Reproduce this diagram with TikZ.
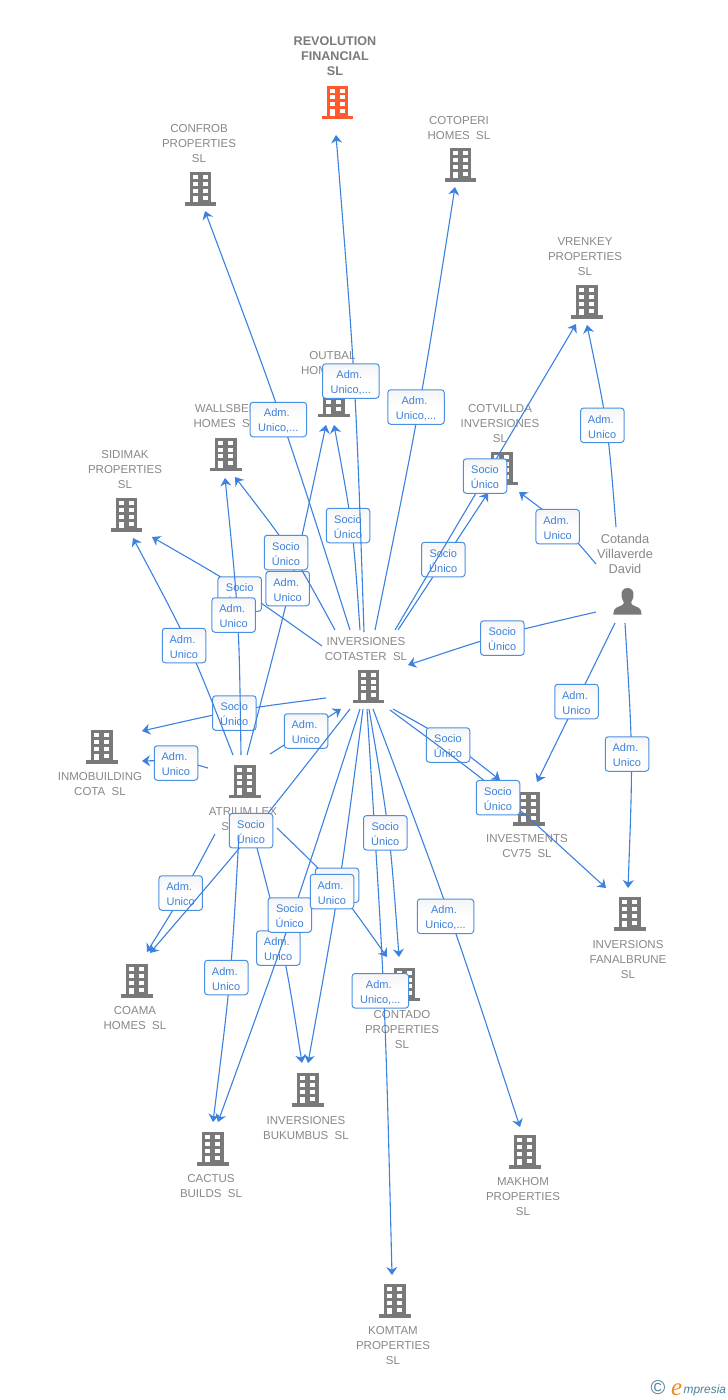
\documentclass[tikz,border=0pt]{standalone}
\usepackage{fontspec}
\setmainfont{Liberation Sans}
\newfontfamily\logoserif{Liberation Serif}
\usetikzlibrary{arrows.meta}
\definecolor{linkblue}{HTML}{3B82E0}
\definecolor{boxblue}{HTML}{4A90E2}
\definecolor{labelblue}{HTML}{3D80DC}
\definecolor{namegray}{HTML}{888888}
\definecolor{icongray}{HTML}{797979}
\definecolor{iconorange}{HTML}{FF5A2C}
\definecolor{logoblue}{HTML}{4A7F9E}
\definecolor{logoorange}{HTML}{F28A1E}
\tikzset{
  link/.style={draw=linkblue,line width=1.1pt,-{Stealth[length=8pt,width=11pt,inset=2.6pt]}},
  lab/.style={draw=boxblue,line width=1pt,rounded corners=3pt,top color=black!4,bottom color=white,middle color=white,
    minimum width=43.5pt,minimum height=34.5pt,inner sep=0pt,align=center,text=labelblue,font=\fontsize{11}{15}\selectfont},
  labw/.style={lab,minimum width=56.5pt},
  iconbox/.style={minimum width=31pt,minimum height=34pt,inner sep=0pt},
  nametxt/.style={yshift=-1pt,text=namegray,align=center,inner sep=0pt,font=\fontsize{11.5}{15}\selectfont},
  bldgicon/.pic={
    \fill[fill=#1] (-11,-16.8) rectangle (10.7,13.4);
    \fill[fill=#1] (-15.7,13.4) rectangle (15.7,16.8);
    \foreach \yy in {-13.6,-6.9,-0.2} {
      \fill[white] (-7.7,\yy) rectangle (-2.7,\yy+3.9);
      \fill[white] (2.3,\yy) rectangle (7.1,\yy+3.9);
    }
    \fill[white] (-7.7,6.5) rectangle (-2.7,13.4);
    \fill[white] (2.3,6.5) rectangle (7.1,10.6);
  }
}
\newcommand{\bldg}[4]{\node[iconbox] (#1) at (#2,#3) {}; \pic at (#2,#3) {bldgicon=#4};}
\newcommand{\admu}{\rule{0pt}{11pt}\mbox{Adm.\ }\\Unico}
\newcommand{\admd}{\rule{0pt}{11pt}\mbox{Adm.\ }\\Unico,...}
\newcommand{\socu}{\rule{0pt}{11pt}Socio\\Único}
\begin{document}
\begin{tikzpicture}[x=1pt,y=-1pt]
\path[use as bounding box,fill=white] (0,0) rectangle (728,1400);

% buildings
\bldg{rev}{337.5}{102.3}{iconorange}
\bldg{con}{200.5}{189}{icongray}
\bldg{cot}{460.5}{165}{icongray}
\bldg{vre}{587}{302}{icongray}
\bldg{out}{334}{400.5}{icongray}
\bldg{wal}{226}{454.5}{icongray}
\bldg{cvi}{502}{468.5}{icongray}
\bldg{sid}{126.5}{515}{icongray}
\bldg{inv}{368.5}{686.5}{icongray}
\bldg{inm}{102}{747}{icongray}
\bldg{atr}{245}{781.5}{icongray}
\bldg{ivs}{529}{809}{icongray}
\bldg{fan}{630}{914}{icongray}
\bldg{coa}{137}{981}{icongray}
\bldg{ctd}{404.5}{984.5}{icongray}
\bldg{buk}{308}{1090}{icongray}
\bldg{cac}{213}{1149}{icongray}
\bldg{mak}{525}{1152}{icongray}
\bldg{kom}{395}{1301}{icongray}
% person
\node[minimum width=28pt,minimum height=27pt,inner sep=0pt] (per) at (627,601) {};
\fill[icongray] (627.5,588) .. controls (623,588) and (621.3,591.5) .. (621.5,595)
  .. controls (621.7,598.5) and (623,601) .. (624,602.5)
  .. controls (624,604.5) and (622,605.5) .. (619,606.5)
  .. controls (615,608) and (613.5,609.5) .. (613.3,614.5) -- (641.5,614.5)
  .. controls (641.3,609.5) and (640,608) .. (636,606.5)
  .. controls (633,605.5) and (631,604.5) .. (631,602.5)
  .. controls (632,601) and (633.3,598.5) .. (633.5,595)
  .. controls (633.7,591.5) and (632,588) .. (627.5,588) -- cycle;

% names
\node[nametxt,font=\fontsize{12.6}{15}\selectfont\bfseries,text=black!52] (rev-t) at (335,55) {REVOLUTION\\FINANCIAL\\SL};
\node[nametxt] (con-t) at (199,143) {CONFROB\\PROPERTIES\\SL};
\node[nametxt] (cot-t) at (459,127.5) {COTOPERI\\HOMES\ \ SL};
\node[nametxt] (vre-t) at (585,256) {VRENKEY\\PROPERTIES\\SL};
\node[nametxt] (out-t) at (332.5,362.5) {OUTBAL\\HOMES\ \ SL};
\node[nametxt] (wal-t) at (225,415.5) {WALLSBEL\\HOMES\ \ SL};
\node[nametxt] (cvi-t) at (500,423) {COTVILLDA\\INVERSIONES\\SL};
\node[nametxt] (sid-t) at (125,469) {SIDIMAK\\PROPERTIES\\SL};
\node[nametxt,font=\fontsize{12.8}{15}\selectfont] (per-t) at (625,553) {Cotanda\\Villaverde\\David};
\node[nametxt] (inv-t) at (366,648.5) {INVERSIONES\\COTASTER\ \ SL};
\node[nametxt] (inm-t) at (100,783.5) {INMOBUILDING\\COTA\ \ SL};
\node[nametxt] (atr-t) at (243,818.5) {ATRIUM LEX\\\mbox{SL\hspace{29pt}}};
\node[nametxt] (ivs-t) at (527,845.5) {INVESTMENTS\\CV75\ \ SL};
\node[nametxt] (fan-t) at (628,959) {INVERSIONS\\FANALBRUNE\\SL};
\node[nametxt] (coa-t) at (135,1017.5) {COAMA\\HOMES\ \ SL};
\node[nametxt] (ctd-t) at (402,1029) {CONTADO\\PROPERTIES\\SL};
\node[nametxt] (buk-t) at (306,1127.5) {INVERSIONES\\BUKUMBUS\ \ SL};
\node[nametxt] (cac-t) at (211,1185.5) {CACTUS\\BUILDS\ \ SL};
\node[nametxt] (mak-t) at (523,1196) {MAKHOM\\PROPERTIES\\SL};
\node[nametxt] (kom-t) at (393,1345) {KOMTAM\\PROPERTIES\\SL};

% logo
\node[inner sep=0pt,text=logoblue,font=\fontsize{20}{20}\selectfont] (logo-c) at (658,1388) {©};
\node[inner sep=0pt,anchor=base west,text=logoorange,font=\fontsize{25}{25}\selectfont\logoserif\itshape] (logo-e) at (671,1395) {e};
\node[inner sep=0pt,anchor=base west,text=logoblue,font=\fontsize{11.9}{13}\selectfont\itshape] (logo-t) at (683.5,1393) {mpresia};

% connector ends
\coordinate (s1) at (364,632); \coordinate (t1) at (336,135);
\coordinate (s2) at (350,630); \coordinate (t2) at (205,211);
\coordinate (s3) at (375,630); \coordinate (t3) at (455,187);
\coordinate (s4) at (395,630); \coordinate (t4) at (576,324);
\coordinate (s5) at (398,630); \coordinate (t5) at (488,493);
\coordinate (s6) at (616,527); \coordinate (t6) at (587,325);
\coordinate (s7) at (596,564); \coordinate (t7) at (519,492);
\coordinate (s8) at (596,612); \coordinate (t8) at (408,665);
\coordinate (s9) at (615,623); \coordinate (t9) at (537,782);
\coordinate (s10) at (625,623); \coordinate (t10) at (628,888);
\coordinate (s11) at (393,709); \coordinate (t11) at (500,780);
\coordinate (s12) at (390,710); \coordinate (t12) at (606,888);
\coordinate (s13) at (322,646); \coordinate (t13) at (152,537);
\coordinate (s14) at (335,630); \coordinate (t14) at (235,477);
\coordinate (s15) at (360,630); \coordinate (t15) at (334,425);
\coordinate (s16) at (247,755); \coordinate (t16) at (326,425);
\coordinate (s17) at (241,755); \coordinate (t17) at (225,478);
\coordinate (s18) at (233,755); \coordinate (t18) at (133,538);
\coordinate (s19) at (208,768); \coordinate (t19) at (142,761);
\coordinate (s20) at (270,754); \coordinate (t20) at (341,709);
\coordinate (s21) at (350,709); \coordinate (t21) at (150,953);
\coordinate (s22) at (215,834); \coordinate (t22) at (147,952);
\coordinate (s23) at (239,835); \coordinate (t23) at (213,1122);
\coordinate (s24) at (257,848); \coordinate (t24) at (302,1063);
\coordinate (s25) at (360,709); \coordinate (t25) at (218,1122);
\coordinate (s26) at (363,709); \coordinate (t26) at (308,1063);
\coordinate (s27) at (277,828); \coordinate (t27) at (387,957);
\coordinate (s28) at (367,709); \coordinate (t28) at (392,1275);
\coordinate (s29) at (369,709); \coordinate (t29) at (399,957);
\coordinate (s30) at (373,709); \coordinate (t30) at (520,1127);
\coordinate (s31) at (326,698); \coordinate (t31) at (142,731);

% connectors with their labels, in stacking order
\draw[link] (s2) .. controls (283.5,420.5) .. (t2);
\node[labw] (l2) at (278.3,419.5) {\admd};
\draw[link] (s3) .. controls (420,408.5) .. (t3);
\node[labw] (l3) at (416,407) {\admd};
\draw[link] (s15) .. controls (353,527.5) .. (t15);
\node[lab] (l15) at (348,525.5) {\socu};
\draw[link] (s1) .. controls (355.7,383.5) .. (t1);
\node[labw] (l1) at (350.8,381) {\admd};
\draw[link] (s5) -- (t5);
\node[lab] (l5) at (443.3,559.5) {\socu};
\draw[link] (s4) -- (t4);
\node[lab] (l4) at (485,476) {\socu};
\draw[link] (s6) .. controls (608,426) .. (t6);
\node[lab] (l6) at (602.3,425.3) {\admu};
\draw[link] (s7) .. controls (562,524) .. (t7);
\node[lab] (l7) at (557.7,526.7) {\admu};
\draw[link] (s8) .. controls (501,634) .. (t8);
\node[lab] (l8) at (502.3,638) {\socu};
\draw[link] (s9) -- (t9);
\node[lab] (l9) at (576.5,701.5) {\admu};
\draw[link] (s10) .. controls (633,755.5) .. (t10);
\node[lab] (l10) at (627,754) {\admu};
\draw[link] (s11) .. controls (449,740) .. (t11);
\node[lab] (l11) at (448,745) {\socu};
\draw[link] (s12) .. controls (500,791) .. (t12);
\node[lab] (l12) at (498,797.7) {\socu};
\draw[link] (s31) .. controls (234,710) .. (t31);
\node[lab] (l31) at (234.3,713) {\socu};
\draw[link] (s13) .. controls (239,587) .. (t13);
\node[lab] (l13) at (239.7,594) {\socu};
\draw[link] (s16) .. controls (290.5,590) .. (t16);
\node[lab] (l16) at (287.7,588.5) {\admu};
\draw[link] (s14) .. controls (292,551) .. (t14);
\node[lab] (l14) at (286,552.5) {\socu};
\draw[link] (s17) .. controls (239,616.5) .. (t17);
\node[lab] (l17) at (233.7,615) {\admu};
\draw[link] (s18) .. controls (190,645) .. (t18);
\node[lab] (l18) at (184,645.5) {\admu};
\draw[link] (s19) .. controls (180,760) .. (t19);
\node[lab] (l19) at (176,763) {\admu};
\draw[link] (s20) -- (t20);
\node[lab] (l20) at (306,731) {\admu};
\draw[link] (s22) .. controls (183,894) .. (t22);
\node[lab] (l22) at (180.7,893) {\admu};
\draw[link] (s21) .. controls (253,833) .. (t21);
\node[lab] (l21) at (251,830.7) {\socu};
\draw[link] (s23) .. controls (231,978.5) .. (t23);
\node[lab] (l23) at (226.3,977.5) {\admu};
\draw[link] (s24) .. controls (285,955) .. (t24);
\node[lab] (l24) at (278.3,948) {\admu};
\draw[link] (s25) .. controls (293,915.5) .. (t25);
\node[lab] (l25) at (289.8,915) {\socu};
\draw[link] (s26) .. controls (340,886) .. (t26);
\draw[link] (s27) .. controls (336,885) .. (t27);
\node[lab] (l27) at (337,885.3) {\admu};
\node[lab] (l26) at (332,891.5) {\admu};
\draw[link] (s28) .. controls (385,992) .. (t28);
\node[labw] (l28) at (380.3,990.8) {\admd};
\draw[link] (s29) .. controls (390,833) .. (t29);
\node[lab] (l29) at (385.3,832.8) {\socu};
\draw[link] (s30) .. controls (451,916) .. (t30);
\node[labw] (l30) at (445.5,916.3) {\admd};
\end{tikzpicture}
\end{document}
